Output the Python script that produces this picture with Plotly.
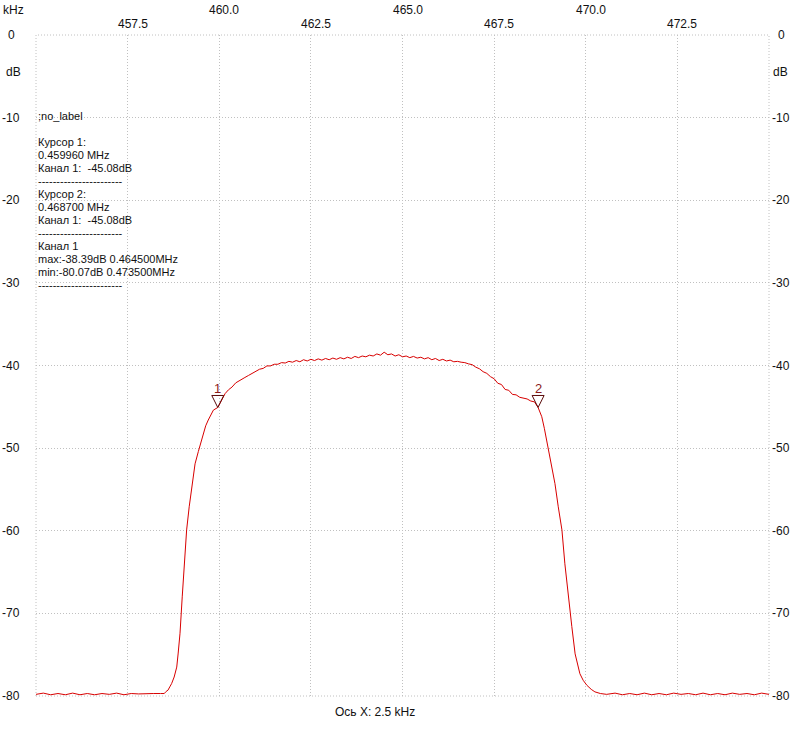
import plotly.graph_objects as go

# ---------------- data ----------------
freq_khz = [
    455.0, 455.2, 455.4, 455.6, 455.8, 456.0, 456.2, 456.4, 456.6, 456.8,
    457.0, 457.2, 457.4, 457.6, 457.8, 458.0, 458.2, 458.4, 458.5, 458.55,
    458.6, 458.65, 458.7, 458.77, 458.84, 458.88, 458.93, 458.99, 459.05, 459.11,
    459.18, 459.25, 459.34, 459.43, 459.5, 459.56, 459.63, 459.7, 459.77, 459.84,
    459.96, 460.05, 460.16, 460.25, 460.35, 460.45, 460.5, 460.6, 460.7, 460.8,
    460.9, 461.0, 461.1, 461.2, 461.3, 461.4, 461.5, 461.6, 461.7, 461.8,
    461.9, 462.0, 462.1, 462.2, 462.3, 462.4, 462.5, 462.6, 462.7, 462.8,
    462.9, 463.0, 463.1, 463.2, 463.3, 463.4, 463.5, 463.6, 463.7, 463.8,
    463.9, 464.0, 464.1, 464.2, 464.3, 464.4, 464.5, 464.6, 464.7, 464.8,
    464.9, 465.0, 465.1, 465.2, 465.3, 465.4, 465.5, 465.6, 465.7, 465.8,
    465.9, 466.0, 466.1, 466.2, 466.3, 466.4, 466.5, 466.6, 466.7, 466.8,
    466.9, 467.0, 467.1, 467.2, 467.3, 467.4, 467.5, 467.6, 467.7, 467.8,
    467.9, 468.0, 468.1, 468.2, 468.3, 468.4, 468.5, 468.6, 468.7, 468.75,
    468.8, 468.87, 468.93, 469.0, 469.07, 469.16, 469.25, 469.35, 469.43, 469.52,
    469.62, 469.71, 469.78, 469.84, 469.93, 470.03, 470.15, 470.25, 470.4, 470.57,
    470.8, 471.0, 471.2, 471.4, 471.6, 471.8, 472.0, 472.2, 472.4, 472.6,
    472.8, 473.0, 473.2, 473.4, 473.6, 473.8, 474.0, 474.2, 474.4, 474.6,
    474.8, 475.0,
]
level_db = [
    -79.8, -79.65, -79.85, -79.7, -79.85, -79.65, -79.85, -79.7, -79.85, -79.7,
    -79.8, -79.65, -79.85, -79.7, -79.75, -79.7, -79.7, -79.7, -79.7, -79.45,
    -79.3, -78.9, -78.5, -77.7, -76.5, -74.8, -72.4, -68.0, -64.4, -59.9,
    -57.1, -54.7, -51.9, -50.4, -49.2, -48.2, -47.3, -46.6, -46.0, -45.4,
    -45.08, -44.3, -43.4, -42.95, -42.6, -42.1, -41.95, -41.75, -41.45, -41.2,
    -40.95, -40.75, -40.45, -40.35, -40.05, -40.05, -39.85, -39.85, -39.65, -39.7,
    -39.5, -39.6, -39.4, -39.55, -39.3, -39.45, -39.25, -39.4, -39.2, -39.35,
    -39.15, -39.3, -39.1, -39.25, -39.05, -39.2, -39.0, -39.15, -38.9, -39.05,
    -38.85, -38.95, -38.75, -38.85, -38.6, -38.75, -38.39, -38.7, -38.6, -38.85,
    -38.7, -38.95, -38.85, -39.05, -38.9, -39.1, -39.0, -39.2, -39.05, -39.3,
    -39.15, -39.4, -39.25, -39.45, -39.35, -39.55, -39.5, -39.6, -39.65, -39.8,
    -39.9, -40.2, -40.4, -40.75, -40.95, -41.35, -41.6, -42.15, -42.3, -42.9,
    -43.0, -43.5, -43.55, -43.85, -43.95, -44.05, -44.3, -44.4, -45.08, -45.6,
    -46.2, -47.6, -49.0, -50.7, -52.3, -54.3, -57.1, -59.9, -64.0, -68.0,
    -71.6, -74.9, -76.4, -77.3, -78.1, -78.7, -79.2, -79.5, -79.7, -79.8,
    -79.65, -79.85, -79.7, -79.85, -79.65, -79.85, -79.7, -79.85, -79.65, -79.8,
    -79.7, -79.85, -79.65, -79.85, -79.7, -79.85, -79.65, -79.8, -79.7, -79.85,
    -79.65, -79.8,
]

cursor_freq = [459.96, 468.70]
cursor_level = [-45.08, -45.08]
cursor_names = ["1", "2"]

x_ticks_top = [460.0, 465.0, 470.0]
x_ticks_low = [457.5, 462.5, 467.5, 472.5]
y_ticks = [0, -10, -20, -30, -40, -50, -60, -70, -80]

info_lines = [
    ";no_label",
    "",
    "Курсор 1:",
    "0.459960 MHz",
    "Канал 1:  -45.08dB",
    "-----------------------",
    "Курсор 2:",
    "0.468700 MHz",
    "Канал 1:  -45.08dB",
    "-----------------------",
    "Канал 1",
    "max:-38.39dB 0.464500MHz",
    "min:-80.07dB 0.473500MHz",
    "-----------------------",
]

# ---------------- figure ----------------
FONT = "Liberation Sans, Arial, sans-serif"
TXT = "#111111"
GRID_COLOR = "#c0c0c0"
GRID_DASH = "1px,2px"

fig = go.Figure()
fig.add_trace(go.Scatter(
    x=freq_khz, y=level_db, mode="lines",
    line=dict(color="#d80000", width=1),
    hoverinfo="skip", showlegend=False,
))

annotations = []
shapes = []

# dotted frame around the plot area (edges of the grid)
shapes.append(dict(type="rect", xref="paper", yref="paper", x0=0, x1=1, y0=0, y1=1,
                   line=dict(color=GRID_COLOR, width=1, dash=GRID_DASH),
                   fillcolor="rgba(0,0,0,0)", layer="below"))

# cursor markers
for cf, cl, name in zip(cursor_freq, cursor_level, cursor_names):
    shapes.append(dict(
        type="path", xref="x", yref="y",
        xsizemode="pixel", ysizemode="pixel",
        xanchor=cf, yanchor=cl,
        path="M -6,12 L 6,12 L 0,0 Z",
        line=dict(color="#5a0a0a", width=1),
        fillcolor="rgba(0,0,0,0)", layer="above",
    ))
    annotations.append(dict(
        x=cf, y=cl, xref="x", yref="y", text=name, showarrow=False,
        yshift=19, font=dict(family=FONT, size=13, color="#8b1a1a"),
    ))

# y tick labels both sides
for v in y_ticks:
    annotations.append(dict(x=0, xref="paper", y=v, yref="y", text=str(v),
                            showarrow=False, xanchor="center", xshift=-25,
                            font=dict(family=FONT, size=12, color=TXT)))
    annotations.append(dict(x=1, xref="paper", y=v, yref="y", text=str(v),
                            showarrow=False, xanchor="center", xshift=12,
                            font=dict(family=FONT, size=12, color=TXT)))

# x tick labels (staggered, top)
for v in x_ticks_top:
    annotations.append(dict(x=v, xref="x", y=1, yref="paper", text=f"{v:.1f}",
                            showarrow=False, xanchor="center", yanchor="middle",
                            xshift=5, yshift=25,
                            font=dict(family=FONT, size=12, color=TXT)))
for v in x_ticks_low:
    annotations.append(dict(x=v, xref="x", y=1, yref="paper", text=f"{v:.1f}",
                            showarrow=False, xanchor="center", yanchor="middle",
                            xshift=5, yshift=11,
                            font=dict(family=FONT, size=12, color=TXT)))

# unit labels
annotations.append(dict(x=0, xref="paper", y=1, yref="paper", text="kHz",
                        showarrow=False, xanchor="center", yanchor="middle",
                        xshift=-23, yshift=25, font=dict(family=FONT, size=12, color=TXT)))
annotations.append(dict(x=0, xref="paper", y=1, yref="paper", text="dB",
                        showarrow=False, xanchor="center", yanchor="middle",
                        xshift=-23, yshift=-37, font=dict(family=FONT, size=12, color=TXT)))
annotations.append(dict(x=1, xref="paper", y=1, yref="paper", text="dB",
                        showarrow=False, xanchor="center", yanchor="middle",
                        xshift=11, yshift=-37, font=dict(family=FONT, size=12, color=TXT)))
annotations.append(dict(x=0.5, xref="paper", y=0, yref="paper", text="Ось X: 2.5 kHz",
                        showarrow=False, xanchor="center", yanchor="middle",
                        xshift=-28, yshift=-16, font=dict(family=FONT, size=12, color=TXT)))

# info block
for i, line in enumerate(info_lines):
    if not line:
        continue
    py = 116 + i * 13
    annotations.append(dict(x=0, xref="paper", y=1, yref="paper", text=line,
                            showarrow=False, xanchor="left", yanchor="middle",
                            xshift=0, yshift=-(py - 35),
                            font=dict(family=FONT, size=11, color=TXT)))

grid = dict(showgrid=True, gridcolor=GRID_COLOR, griddash=GRID_DASH, gridwidth=1,
            zeroline=False, showline=False, ticks="", showticklabels=False)

fig.update_layout(
    width=803, height=731,
    margin=dict(l=36, r=34, t=35, b=35),
    paper_bgcolor="white", plot_bgcolor="white",
    xaxis=dict(range=[455, 475], tick0=455, dtick=2.5, fixedrange=True, **grid),
    yaxis=dict(range=[-80, 0], tick0=0, dtick=10, fixedrange=True, **grid),
    annotations=annotations, shapes=shapes,
    showlegend=False, hovermode=False,
)

fig.write_html(
    "out.html",
    config={"displayModeBar": False, "staticPlot": True},
    post_script="document.body.style.margin='0';document.body.style.overflow='hidden';",
)
